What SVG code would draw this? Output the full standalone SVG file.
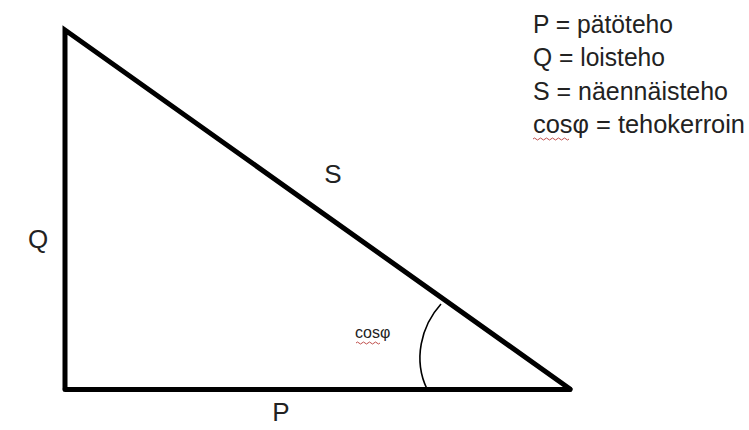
<svg xmlns="http://www.w3.org/2000/svg" width="749" height="430" viewBox="0 0 749 430">
<style>
.t{font-family:"Liberation Sans",Arial,sans-serif;fill:#222}
.lg{font-size:26px}
.lab{font-size:26px}
.edge{stroke:#000;stroke-width:5;fill:none;stroke-linecap:round;stroke-linejoin:miter}
.arc{stroke:#000;stroke-width:1.6;fill:none}
.sq{stroke:#c0504d;stroke-width:1;fill:none}
</style>
<rect width="749" height="430" fill="#fff"/>
<g id="connectors">
<path class="edge" d="M65,388 L65,30 L570,389"/>
<path class="edge" d="M65,389.5 L570,389.5" stroke-width="6"/>
<path class="arc" d="M441,304 C421,326 413,360 427,389"/>
</g>
<g id="label-S"><text class="t lab" x="333" y="183" text-anchor="middle">S</text></g>
<g id="label-Q"><text class="t lab" x="38" y="248" text-anchor="middle">Q</text></g>
<g id="label-P"><text class="t lab" x="281" y="421" text-anchor="middle">P</text></g>
<g id="label-cos">
<text class="t" x="355" y="338" font-size="16">cosφ</text>
<path class="sq" d="M356,343 q1.5,-2 3,0 t3,0 t3,0 t3,0 t3,0 t3,0 t3,0 t3,0"/>
</g>
<g id="legend">
<text class="t lg" x="533" y="33" textLength="140" lengthAdjust="spacingAndGlyphs">P = pätöteho</text>
<text class="t lg" x="533" y="66" textLength="132" lengthAdjust="spacingAndGlyphs">Q = loisteho</text>
<text class="t lg" x="533" y="100" textLength="195" lengthAdjust="spacingAndGlyphs">S = näennäisteho</text>
<text class="t lg" x="533" y="133" textLength="212" lengthAdjust="spacingAndGlyphs">cosφ = tehokerroin</text>
<path class="sq" d="M533,139 q1.5,-2 3,0 t3,0 t3,0 t3,0 t3,0 t3,0 t3,0 t3,0 t3,0 t3,0 t3,0 t3,0"/>
</g>
</svg>
